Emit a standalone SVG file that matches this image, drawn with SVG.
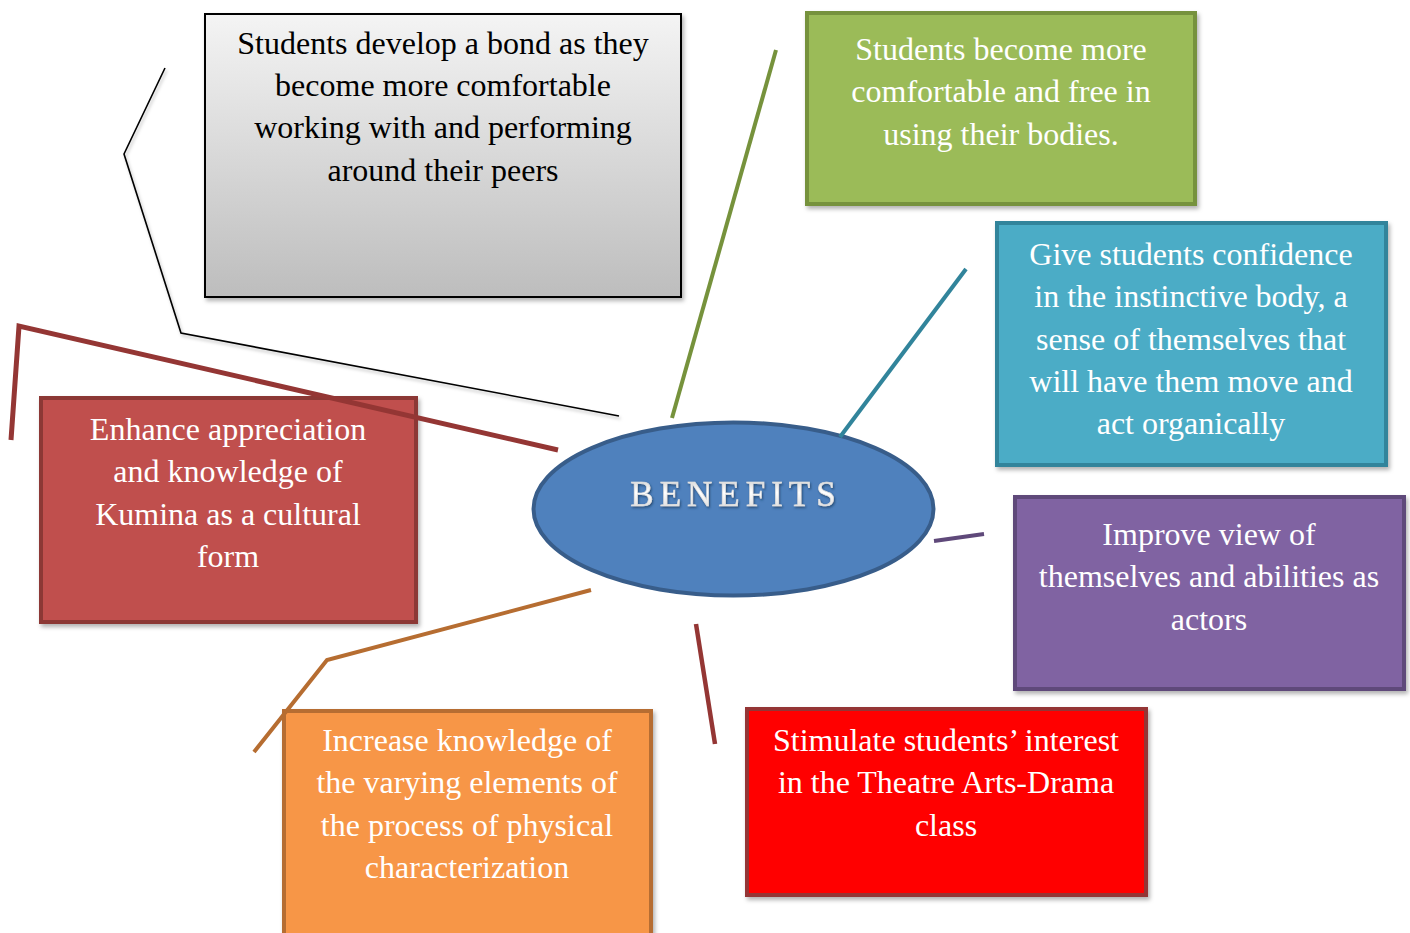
<svg xmlns="http://www.w3.org/2000/svg" width="1410" height="933" viewBox="0 0 1410 933">
  <defs>
    <linearGradient id="grayFill" x1="0" y1="0" x2="0" y2="1">
      <stop offset="0" stop-color="#f4f4f4"/>
      <stop offset="1" stop-color="#bdbdbd"/>
    </linearGradient>
    <linearGradient id="titleFill" x1="0" y1="0" x2="0" y2="1">
      <stop offset="0" stop-color="#c8c8c8"/>
      <stop offset="0.45" stop-color="#ffffff"/>
      <stop offset="1" stop-color="#d0d0d0"/>
    </linearGradient>
    <filter id="shadow" x="-10%" y="-10%" width="130%" height="130%">
      <feDropShadow dx="2" dy="3" stdDeviation="2" flood-color="#000" flood-opacity="0.3"/>
    </filter>
    <filter id="lineShadow" x="-10%" y="-10%" width="130%" height="130%">
      <feDropShadow dx="1.5" dy="2.5" stdDeviation="1.5" flood-color="#000" flood-opacity="0.25"/>
    </filter>
    <filter id="titleShadow" x="-10%" y="-20%" width="120%" height="150%">
      <feDropShadow dx="1" dy="1.5" stdDeviation="1" flood-color="#1f3b60" flood-opacity="0.8"/>
    </filter>
  </defs>
  <style>
    .box { stroke-width: 4; filter: url(#shadow); }
    .txt { font-size: 32px; text-anchor: middle; fill: #ffffff; }
    .dark { fill: #000000; }
    .conn { fill: none; stroke-linecap: butt; stroke-linejoin: miter; }
  </style>

  <rect width="1410" height="933" fill="#ffffff"/>

  <g font-family="Liberation Serif, serif">
  <!-- benefit boxes -->
  <g id="node-bond">
    <rect class="box" x="205" y="14" width="476" height="283" fill="url(#grayFill)" stroke="#000000" style="stroke-width:2"/>
    <text class="txt dark" x="443" y="54">Students develop a bond as they</text>
    <text class="txt dark" x="443" y="96">become more comfortable</text>
    <text class="txt dark" x="443" y="138">working with and performing</text>
    <text class="txt dark" x="443" y="181">around their peers</text>
  </g>

  <g id="node-bodies">
    <rect class="box" x="807" y="13" width="388" height="191" fill="#9bbb59" stroke="#76923c"/>
    <text class="txt" x="1001" y="60">Students become more</text>
    <text class="txt" x="1001" y="102">comfortable and free in</text>
    <text class="txt" x="1001" y="145">using their bodies.</text>
  </g>

  <g id="node-confidence">
    <rect class="box" x="997" y="223" width="389" height="242" fill="#4bacc6" stroke="#31849b"/>
    <text class="txt" x="1191" y="265">Give students confidence</text>
    <text class="txt" x="1191" y="307">in the instinctive body, a</text>
    <text class="txt" x="1191" y="350">sense of themselves that</text>
    <text class="txt" x="1191" y="392">will have them move and</text>
    <text class="txt" x="1191" y="434">act organically</text>
  </g>

  <g id="node-view">
    <rect class="box" x="1015" y="497" width="389" height="192" fill="#8064a2" stroke="#5f497a"/>
    <text class="txt" x="1209" y="545">Improve view of</text>
    <text class="txt" x="1209" y="587">themselves and abilities as</text>
    <text class="txt" x="1209" y="630">actors</text>
  </g>

  <g id="node-interest">
    <rect class="box" x="747" y="709" width="399" height="186" fill="#ff0000" stroke="#943634"/>
    <text class="txt" x="946" y="751">Stimulate students’ interest</text>
    <text class="txt" x="946" y="793">in the Theatre Arts-Drama</text>
    <text class="txt" x="946" y="836">class</text>
  </g>

  <g id="node-characterization">
    <rect class="box" x="284" y="711" width="367" height="240" fill="#f79646" stroke="#b66d31"/>
    <text class="txt" x="467" y="751">Increase knowledge of</text>
    <text class="txt" x="467" y="793">the varying elements of</text>
    <text class="txt" x="467" y="836">the process of physical</text>
    <text class="txt" x="467" y="878">characterization</text>
  </g>

  <g id="node-kumina">
    <rect class="box" x="41" y="398" width="375" height="224" fill="#c0504d" stroke="#8c3836"/>
    <text class="txt" x="228" y="440">Enhance appreciation</text>
    <text class="txt" x="228" y="482">and knowledge of</text>
    <text class="txt" x="228" y="525">Kumina as a cultural</text>
    <text class="txt" x="228" y="567">form</text>
  </g>

  <!-- central hub -->
  <g id="node-benefits">
    <ellipse cx="733.5" cy="509" rx="200" ry="86.5" fill="#4f81bd" stroke="#385d8a" stroke-width="4"/>
    <text x="736" y="506" font-size="35" letter-spacing="6" text-anchor="middle" fill="url(#titleFill)" stroke="#e0e0e0" stroke-width="0.6" filter="url(#titleShadow)">BENEFITS</text>
  </g>
  </g>

  <!-- connectors from the hub to each benefit -->
  <g id="connectors">
    <polyline class="conn" points="165,68 124,154 181,333 619,416" stroke="#000000" stroke-width="1.6" filter="url(#lineShadow)"/>
    <polyline class="conn" points="11,440 19,326 558,450" stroke="#943634" stroke-width="5"/>
    <line class="conn" x1="776" y1="50" x2="672" y2="418" stroke="#76923c" stroke-width="4"/>
    <line class="conn" x1="966" y1="269" x2="840" y2="437" stroke="#31849b" stroke-width="4"/>
    <line class="conn" x1="934" y1="541" x2="984" y2="534" stroke="#5f497a" stroke-width="4"/>
    <line class="conn" x1="696" y1="624" x2="715" y2="744" stroke="#943634" stroke-width="4.5"/>
    <polyline class="conn" points="591,590 327,660 254,752" stroke="#b66d31" stroke-width="4"/>
  </g>
</svg>
